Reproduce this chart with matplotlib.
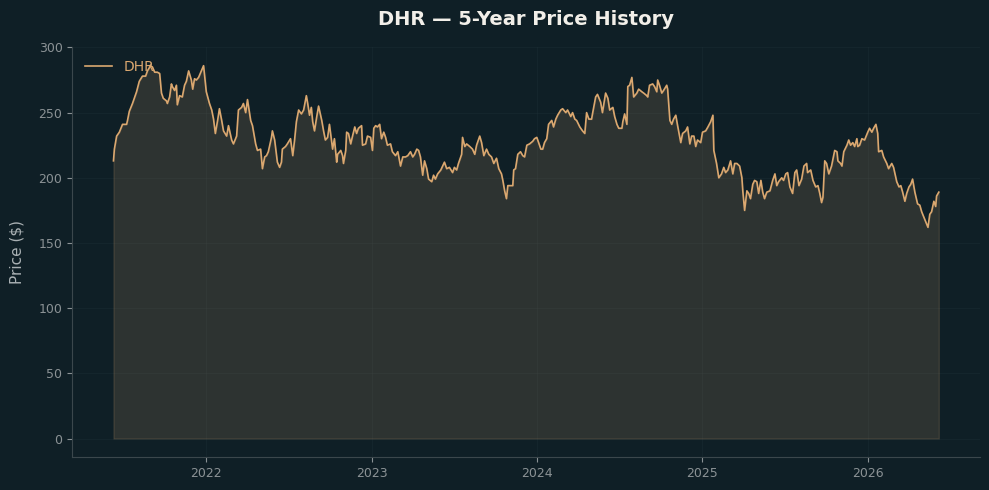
import pandas as pd
import matplotlib.pyplot as plt

# ----------------------------
# Data: days since start, closing price
# ----------------------------
start_date = "2021-06-10"
ticker = "DHR"

day_offsets = [
    0, 2, 7, 13, 20, 29, 31, 35, 42, 51, 57, 64, 71, 75, 82, 86, 91, 97, 102, 106,
    110, 117, 119, 124, 128, 130, 135, 139, 141, 146, 152, 157, 161, 166, 172, 175, 179, 183, 188, 194,
    199, 205, 212, 217, 221, 225, 230, 234, 239, 243, 250, 254, 261, 265, 272, 276, 283, 287, 292, 296,
    303, 307, 314, 318, 325, 329, 334, 338, 342, 349, 351, 356, 360, 362, 367, 371, 373, 380, 384, 391,
    396, 400, 404, 409, 415, 420, 426, 429, 433, 437, 440, 444, 449, 453, 460, 464, 468, 473, 477, 484,
    488, 493, 495, 502, 506, 508, 513, 515, 519, 524, 528, 533, 537, 541, 548, 550, 557, 561, 568, 572,
    575, 579, 583, 588, 592, 597, 601, 605, 612, 616, 623, 628, 634, 639, 645, 650, 656, 661, 665, 670,
    674, 678, 683, 687, 692, 696, 703, 707, 711, 716, 723, 727, 731, 736, 742, 749, 753, 758, 762, 769,
    771, 776, 780, 787, 793, 798, 802, 809, 813, 818, 824, 829, 835, 840, 846, 851, 857, 860, 864, 868,
    871, 877, 882, 884, 888, 893, 899, 904, 908, 913, 919, 926, 930, 935, 939, 944, 948, 952, 957, 961,
    968, 972, 977, 981, 988, 992, 999, 1003, 1010, 1014, 1019, 1023, 1030, 1036, 1041, 1045, 1050, 1056, 1058, 1065,
    1069, 1076, 1080, 1087, 1092, 1096, 1103, 1107, 1112, 1116, 1123, 1125, 1129, 1134, 1136, 1140, 1145, 1149, 1156, 1160,
    1167, 1171, 1178, 1180, 1184, 1191, 1195, 1200, 1202, 1206, 1211, 1215, 1222, 1224, 1229, 1233, 1237, 1242, 1246, 1253,
    1257, 1264, 1268, 1273, 1277, 1282, 1286, 1290, 1297, 1301, 1308, 1313, 1319, 1324, 1326, 1332, 1337, 1343, 1348, 1352,
    1357, 1363, 1368, 1372, 1377, 1383, 1388, 1390, 1394, 1399, 1403, 1407, 1412, 1416, 1421, 1425, 1430, 1434, 1438, 1443,
    1450, 1456, 1461, 1465, 1469, 1476, 1480, 1485, 1489, 1494, 1500, 1505, 1509, 1514, 1520, 1525, 1531, 1533, 1540, 1545,
    1551, 1556, 1560, 1564, 1567, 1571, 1575, 1580, 1586, 1593, 1598, 1600, 1606, 1609, 1613, 1620, 1624, 1628, 1633, 1637,
    1642, 1644, 1648, 1653, 1659, 1666, 1670, 1675, 1679, 1684, 1688, 1690, 1697, 1701, 1708, 1712, 1719, 1723, 1730, 1735,
    1739, 1743, 1748, 1752, 1757, 1761, 1765, 1770, 1776, 1781, 1785, 1792, 1799, 1803, 1807, 1812, 1816, 1818, 1823,
]

prices = [
    213, 222, 232, 235, 241, 241, 244, 251, 257, 266, 274, 278, 278, 282, 286, 285, 281, 281, 280, 265,
    261, 259, 257, 262, 272, 270, 267, 271, 256, 263, 262, 271, 274, 282, 275, 268, 276, 275, 277, 282,
    286, 266, 257, 252, 245, 234, 244, 253, 244, 236, 232, 240, 229, 226, 232, 252, 254, 257, 250, 260,
    244, 240, 226, 221, 222, 207, 216, 217, 220, 231, 236, 229, 218, 212, 208, 212, 222, 224, 226, 230,
    217, 229, 243, 252, 249, 252, 263, 257, 248, 254, 243, 236, 247, 255, 244, 236, 229, 231, 241, 222,
    230, 212, 218, 221, 217, 211, 221, 235, 234, 226, 232, 239, 234, 238, 240, 225, 226, 232, 231, 221,
    238, 240, 239, 241, 230, 235, 231, 225, 226, 220, 217, 220, 209, 216, 216, 217, 220, 216, 218, 222,
    221, 216, 202, 213, 207, 199, 197, 202, 199, 203, 206, 209, 212, 207, 208, 204, 208, 206, 211, 218,
    231, 224, 226, 224, 222, 218, 225, 232, 227, 217, 222, 218, 216, 211, 215, 207, 203, 198, 190, 184,
    194, 194, 194, 206, 207, 218, 220, 217, 216, 225, 226, 228, 230, 231, 227, 222, 222, 227, 230, 241,
    244, 239, 245, 248, 252, 253, 250, 252, 247, 250, 245, 244, 239, 236, 234, 250, 245, 245, 249, 262,
    264, 258, 250, 265, 261, 252, 254, 247, 241, 238, 238, 243, 249, 241, 270, 271, 277, 262, 265, 268,
    266, 265, 263, 262, 271, 272, 270, 266, 275, 271, 265, 267, 271, 268, 244, 241, 245, 248, 240, 227,
    234, 236, 239, 226, 232, 232, 224, 229, 227, 235, 236, 239, 243, 248, 221, 211, 200, 203, 208, 204,
    206, 213, 203, 211, 211, 209, 200, 190, 175, 190, 188, 184, 195, 198, 197, 188, 198, 189, 184, 189,
    190, 198, 203, 194, 197, 200, 198, 203, 204, 193, 188, 204, 206, 194, 199, 209, 211, 204, 206, 198,
    193, 194, 188, 181, 185, 213, 211, 203, 209, 221, 220, 213, 211, 209, 220, 225, 229, 225, 227, 224,
    230, 224, 225, 230, 229, 235, 238, 235, 238, 241, 234, 220, 221, 216, 211, 207, 211, 208, 197, 193,
    194, 189, 182, 188, 193, 195, 199, 189, 180, 179, 174, 168, 162, 172, 174, 182, 178, 186, 189,
]

dates = pd.Timestamp(start_date) + pd.to_timedelta(day_offsets, unit="D")

# ----------------------------
# Style
# ----------------------------
bg = "#0f1f26"
line_color = "#dba870"
text_gray = "#8b9295"

fig, ax = plt.subplots(figsize=(9.89, 4.9), dpi=100)
fig.patch.set_facecolor(bg)
ax.set_facecolor(bg)
fig.subplots_adjust(left=0.073, right=0.991, bottom=0.067, top=0.904)

ax.fill_between(dates, prices, 0, color=line_color, alpha=0.15, linewidth=1)
ax.plot(dates, prices, color=line_color, linewidth=1.2, label=ticker)

ax.set_title(f"{ticker} \u2014 5-Year Price History", color="#f2efe9",
             fontsize=14, fontweight="bold", pad=16)
ax.set_ylabel("Price ($)", color="#aab1b4", fontsize=11, labelpad=10)

ax.set_yticks([0, 50, 100, 150, 200, 250, 300])
ax.tick_params(colors=text_gray, labelsize=9)
for side in ["top", "right"]:
    ax.spines[side].set_visible(False)
for side in ["left", "bottom"]:
    ax.spines[side].set_color("#3b474c")

ax.grid(True, color="#22333a", linewidth=0.8, alpha=0.3)
ax.set_axisbelow(True)

leg = ax.legend(loc="upper left", frameon=False, fontsize=10)
for t in leg.get_texts():
    t.set_color(line_color)

plt.savefig("out.png", dpi=100, facecolor=bg)
plt.close()
